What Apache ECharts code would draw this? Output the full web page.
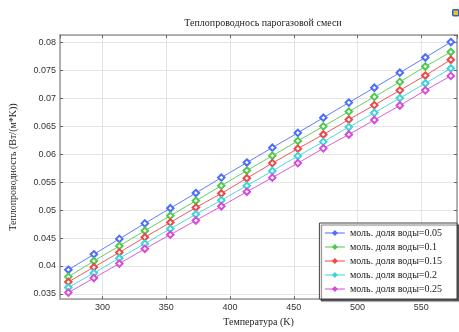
<!DOCTYPE html>
<html>
<head>
<meta charset="utf-8">
<script src="https://cdn.jsdelivr.net/npm/echarts@6/dist/echarts.min.js"></script>
<style>
  html, body { margin: 0; padding: 0; background: #fff; }
  #chart { width: 459px; height: 332px; }
</style>
</head>
<body>
<div id="chart"></div>
<script>
// Temperature points, K
const temperatures = [273.15, 293.15, 313.15, 333.15, 353.15, 373.15, 393.15, 413.15,
                      433.15, 453.15, 473.15, 493.15, 513.15, 533.15, 553.15, 573.15];

// Thermal conductivity, W/(m*K), for each water mole fraction
const k005 = [0.03932, 0.04209, 0.04485, 0.04762, 0.05033, 0.05304, 0.05581, 0.05850,
              0.06116, 0.06381, 0.06652, 0.06922, 0.07188, 0.07457, 0.07729, 0.08005];
const k010 = [0.03806, 0.04088, 0.04359, 0.04630, 0.04900, 0.05166, 0.05436, 0.05707,
              0.05971, 0.06237, 0.06497, 0.06761, 0.07025, 0.07292, 0.07568, 0.07827];
const k015 = [0.03715, 0.03979, 0.04243, 0.04515, 0.04779, 0.05045, 0.05297, 0.05569,
              0.05840, 0.06099, 0.06351, 0.06618, 0.06877, 0.07141, 0.07406, 0.07689];
const k020 = [0.03616, 0.03875, 0.04140, 0.04399, 0.04665, 0.04924, 0.05176, 0.05436,
              0.05700, 0.05966, 0.06220, 0.06485, 0.06739, 0.07003, 0.07267, 0.07533];
const k025 = [0.03524, 0.03784, 0.04043, 0.04307, 0.04560, 0.04814, 0.05068, 0.05327,
              0.05580, 0.05840, 0.06104, 0.06351, 0.06611, 0.06870, 0.07141, 0.07400];

const seriesNames = ['моль. доля воды=0.05', 'моль. доля воды=0.1', 'моль. доля воды=0.15',
                     'моль. доля воды=0.2', 'моль. доля воды=0.25'];
const seriesValues = [k005, k010, k015, k020, k025];
const seriesColors = ['#4d6dff', '#4ec94e', '#f04646', '#3dd3d8', '#d84ad8'];

const titleText = 'Теплопроводнось парогазовой смеси';
const xName = 'Температура (K)';
const yName = 'Теплопроводность (Вт/(м*K))';

const serif = '"Liberation Serif", "DejaVu Serif", serif';
const sans = '"Liberation Sans", "DejaVu Sans", sans-serif';

const X_MIN = 266.6, X_MAX = 578.0;
const Y_MIN = 0.03408, Y_MAX = 0.08131;

const frameLine = { show: true, onZero: false, lineStyle: { color: '#999', width: 1.5 } };
const innerTick = { show: true, inside: true, length: 3, lineStyle: { color: '#666', width: 1 } };
const gridLine = { show: true, lineStyle: { color: '#e4e4e4', width: 1 } };

const chart = echarts.init(document.getElementById('chart'), null, { renderer: 'canvas' });

chart.setOption({
  animation: false,
  backgroundColor: '#fff',
  title: {
    text: titleText,
    left: 258,
    top: 13,
    textAlign: 'center',
    textStyle: { fontFamily: serif, fontSize: 10, fontWeight: 'normal', color: '#222' }
  },
  grid: { left: 59, right: 2, top: 35, bottom: 24, containLabel: false },
  legend: {
    orient: 'vertical',
    right: 2,
    top: 223,
    padding: [4, 15, 4, 5],
    itemWidth: 20,
    itemHeight: 4,
    itemGap: 2,
    backgroundColor: '#fff',
    borderColor: '#444',
    borderWidth: 1,
    shadowColor: 'rgba(0,0,0,0.55)',
    shadowBlur: 1,
    shadowOffsetX: 2,
    shadowOffsetY: 2,
    lineStyle: { width: 1 },
    itemStyle: { borderWidth: 0.8 },
    textStyle: { fontFamily: serif, fontSize: 10, color: '#222', lineHeight: 12 },
    data: seriesNames
  },
  xAxis: [
    {
      type: 'value', position: 'bottom', min: X_MIN, max: X_MAX, splitNumber: 6,
      name: xName, nameLocation: 'middle', nameGap: 15,
      nameTextStyle: { fontFamily: serif, fontSize: 10, color: '#222' },
      axisLine: frameLine, axisTick: innerTick, splitLine: gridLine,
      axisLabel: { fontFamily: sans, fontSize: 9, color: '#333', margin: 4,
                   showMinLabel: false, showMaxLabel: false }
    },
    {
      type: 'value', position: 'top', min: X_MIN, max: X_MAX, splitNumber: 6,
      axisLine: frameLine, axisTick: innerTick, splitLine: { show: false },
      axisLabel: { show: false }
    }
  ],
  yAxis: [
    {
      type: 'value', position: 'left', min: Y_MIN, max: Y_MAX, splitNumber: 9,
      name: yName, nameLocation: 'middle', nameGap: 42, nameRotate: 90,
      nameTextStyle: { fontFamily: serif, fontSize: 10, color: '#222' },
      axisLine: frameLine, axisTick: innerTick, splitLine: gridLine,
      axisLabel: { fontFamily: sans, fontSize: 9, color: '#333', margin: 4,
                   showMinLabel: false, showMaxLabel: false }
    },
    {
      type: 'value', position: 'right', min: Y_MIN, max: Y_MAX, splitNumber: 9,
      axisLine: frameLine, axisTick: innerTick, splitLine: { show: false },
      axisLabel: { show: false }
    }
  ],
  series: seriesNames.map((name, i) => ({
    name: name,
    type: 'line',
    xAxisIndex: 0,
    yAxisIndex: 0,
    data: temperatures.map((t, j) => [t, seriesValues[i][j]]),
    symbol: 'emptyDiamond',
    symbolSize: 6.5,
    showSymbol: true,
    lineStyle: { color: seriesColors[i], width: 0.9 },
    itemStyle: { color: seriesColors[i], borderWidth: 0.8 }
  })),
  graphic: [
    {
      type: 'rect', left: 452, top: 9,
      shape: { width: 6, height: 6, r: 1 },
      style: { fill: '#f2c21a', stroke: '#2a62c9', lineWidth: 1.5 }
    }
  ]
});
</script>
</body>
</html>
